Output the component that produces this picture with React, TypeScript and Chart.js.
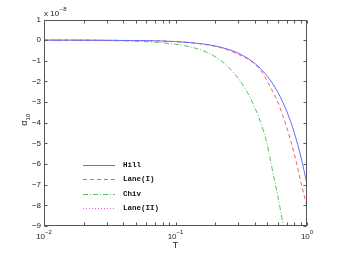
import React, { useEffect, useRef } from "react";
import { Chart, registerables } from "chart.js";
Chart.register(...registerables);

const T = [0.01, 0.02, 0.03, 0.05, 0.07, 0.1, 0.13, 0.16, 0.2, 0.25, 0.3, 0.35, 0.4, 0.45, 0.5, 0.55, 0.6, 0.65, 0.7, 0.75, 0.8, 0.85, 0.9, 0.95, 1.0];
const hill = [0, 0, -0.01, -0.02, -0.03, -0.07, -0.12, -0.18, -0.28, -0.44, -0.63, -0.86, -1.12, -1.42, -1.75, -2.12, -2.52, -2.96, -3.43, -3.94, -4.48, -5.06, -5.67, -6.32, -7.0];
const laneI = [0, 0, -0.01, -0.02, -0.03, -0.07, -0.12, -0.19, -0.3, -0.47, -0.68, -0.89, -1.15, -1.5, -2.0, -2.5, -3.0, -3.6, -4.2, -4.85, -5.5, -6.2, -6.9, -7.5, -8.07];
const chiv = [0, -0.01, -0.02, -0.05, -0.1, -0.2, -0.33, -0.5, -0.8, -1.28, -1.85, -2.5, -3.25, -4.1, -5.1, -6.4, -7.55, -8.75, -9.9, null, null, null, null, null, null];
const laneIIT = [0.01, 0.015, 0.02, 0.025, 0.03, 0.036];
const laneII = [0, 0, 0, 0, 0, 0];
const seriesNames = ["Hill", "Lane(I)", "Chiv", "Lane(II)"];
const yTicks = [-9, -8, -7, -6, -5, -4, -3, -2, -1, 0, 1];
const xTicks = [0.01, 0.1, 1];
const xTickExp = ["\u22122", "\u22121", "0"];
const yExponent = "\u22128";

const toPts = (xs: number[], ys: (number | null)[]) => xs.map((x, i) => ({ x, y: ys[i] }));

const fmt = (v: number) => (v < 0 ? "\u2212" + Math.abs(v) : String(v));

const axesPlugin = {
  id: "matlabAxes",
  afterDatasetsDraw(chart: any) {
    const { ctx, chartArea: a, scales } = chart;
    const x = scales.x, y = scales.y;
    ctx.save();
    ctx.strokeStyle = "#555";
    ctx.lineWidth = 1;
    const L = Math.round(a.left) + 0.5, R = Math.round(a.right) - 0.5;
    const Tp = Math.round(a.top) + 0.5, B = Math.round(a.bottom) - 0.5;
    ctx.strokeRect(L, Tp, R - L, B - Tp);
    ctx.beginPath();
    for (const v of yTicks) {
      const py = Math.round(y.getPixelForValue(v)) + 0.5;
      ctx.moveTo(L, py); ctx.lineTo(L + 3, py);
      ctx.moveTo(R, py); ctx.lineTo(R - 3, py);
    }
    for (let d = -2; d <= 0; d++) {
      for (let k = 1; k <= 9; k++) {
        const v = k * Math.pow(10, d);
        if (v > 1.0001) continue;
        const px = Math.round(x.getPixelForValue(v)) + 0.5;
        const len = 3;
        ctx.moveTo(px, B); ctx.lineTo(px, B - len);
        ctx.moveTo(px, Tp); ctx.lineTo(px, Tp + len);
      }
    }
    ctx.stroke();

    ctx.fillStyle = "#222";
    ctx.font = '8px "Liberation Sans", Arial, sans-serif';
    ctx.textAlign = "right";
    ctx.textBaseline = "middle";
    for (const v of yTicks) {
      ctx.fillText(fmt(v), a.left - 3, y.getPixelForValue(v));
    }
    // exponent label
    ctx.textAlign = "left";
    ctx.textBaseline = "alphabetic";
    ctx.font = '8px "Liberation Sans", Arial, sans-serif';
    const base = "x 10";
    ctx.fillText(base, a.left, a.top - 4);
    const bw = ctx.measureText(base).width;
    ctx.font = '6px "Liberation Sans", Arial, sans-serif';
    ctx.fillText(yExponent, a.left + bw + 0.5, a.top - 9);

    // x tick labels
    xTicks.forEach((v, i) => {
      const px = x.getPixelForValue(v);
      ctx.font = '8px "Liberation Sans", Arial, sans-serif';
      const w1 = ctx.measureText("10").width;
      ctx.font = '6px "Liberation Sans", Arial, sans-serif';
      const w2 = ctx.measureText(xTickExp[i]).width;
      const start = px - (w1 + w2) / 2;
      ctx.font = '8px "Liberation Sans", Arial, sans-serif';
      ctx.fillText("10", start, a.bottom + 13);
      ctx.font = '6px "Liberation Sans", Arial, sans-serif';
      ctx.fillText(xTickExp[i], start + w1, a.bottom + 8);
    });
    // x title
    ctx.font = '9px "Liberation Sans", Arial, sans-serif';
    ctx.textAlign = "center";
    ctx.fillText("T", (a.left + a.right) / 2, a.bottom + 22);

    // y title
    ctx.save();
    ctx.translate(27, (a.top + a.bottom) / 2 - 3);
    ctx.rotate(-Math.PI / 2);
    ctx.textAlign = "left";
    ctx.font = '9px "Liberation Sans", Arial, sans-serif';
    const aw = ctx.measureText("\u03b1").width;
    ctx.font = '6px "Liberation Sans", Arial, sans-serif';
    const sw = ctx.measureText("10").width;
    const s0 = -(aw + sw) / 2;
    ctx.font = '9px "Liberation Sans", Arial, sans-serif';
    ctx.fillText("\u03b1", s0, 0);
    ctx.font = '6px "Liberation Sans", Arial, sans-serif';
    ctx.fillText("10", s0 + aw, 3);
    ctx.restore();

    // legend
    const ds = chart.data.datasets;
    const lx0 = a.left + 39, lx1 = a.left + 71, tx = a.left + 79;
    const y0 = a.top + 145, dy = 14.5;
    ds.forEach((d: any, i: number) => {
      const py = Math.round(y0 + i * dy) + 0.5;
      ctx.save();
      ctx.strokeStyle = d.borderColor;
      ctx.lineWidth = 1;
      ctx.setLineDash(d.borderDash || []);
      ctx.beginPath();
      ctx.moveTo(lx0, py); ctx.lineTo(lx1, py);
      ctx.stroke();
      ctx.restore();
      ctx.fillStyle = "#111";
      ctx.font = 'bold 7.5px "Liberation Mono", "Courier New", monospace';
      ctx.textAlign = "left";
      ctx.textBaseline = "middle";
      ctx.fillText(d.label, tx, py);
    });
    ctx.restore();
  },
};

export default function App() {
  const ref = useRef<HTMLCanvasElement | null>(null);
  useEffect(() => {
    if (!ref.current) return;
    const chart = new Chart(ref.current, {
      type: "line",
      data: {
        datasets: [
          { label: seriesNames[0], data: toPts(T, hill) as any, borderColor: "#6a6aff", borderWidth: 1, pointRadius: 0, fill: false },
          { label: seriesNames[1], data: toPts(T, laneI) as any, borderColor: "#ff5a5a", borderWidth: 1, borderDash: [4, 3], pointRadius: 0, fill: false },
          { label: seriesNames[2], data: toPts(T, chiv) as any, borderColor: "#5cc05c", borderWidth: 1, borderDash: [5, 2, 1, 2], pointRadius: 0, fill: false },
          { label: seriesNames[3], data: toPts(laneIIT, laneII) as any, borderColor: "#e060e0", borderWidth: 1, borderDash: [1, 2], pointRadius: 0, fill: false },
        ],
      },
      options: {
        animation: false,
        responsive: false,
        maintainAspectRatio: false,
        cubicInterpolationMode: "monotone" as any,
        layout: { padding: { left: 44, right: 32, top: 19.5, bottom: 29 } },
        plugins: { legend: { display: false }, tooltip: { enabled: false } },
        scales: {
          x: { type: "logarithmic", min: 0.01, max: 1, display: false },
          y: { type: "linear", min: -9, max: 1, display: false },
        },
      } as any,
      plugins: [axesPlugin],
    });
    return () => chart.destroy();
  }, []);
  return (
    <div style={{ position: "fixed", left: 0, top: 0, width: 339, height: 255, background: "#fff" }}>
      <canvas ref={ref} width={339} height={255} style={{ width: 339, height: 255 }} />
    </div>
  );
}
